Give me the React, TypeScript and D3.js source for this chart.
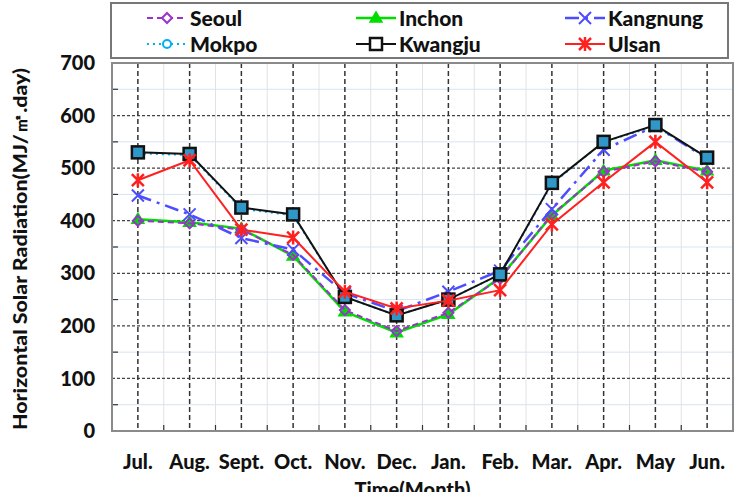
import React, { useRef, useEffect } from 'react';
import * as d3 from 'd3';

const months = ['Jul.', 'Aug.', 'Sept.', 'Oct.', 'Nov.', 'Dec.', 'Jan.', 'Feb.', 'Mar.', 'Apr.', 'May', 'Jun.'];

const seoul = [400, 395, 383, 335, 230, 190, 225, 290, 412, 493, 513, 493];
const inchon = [403, 397, 385, 333, 227, 187, 222, 292, 410, 495, 515, 495];
const kangnung = [448, 412, 367, 345, 262, 228, 265, 305, 422, 535, 580, 518];
const mokpo = [528, 525, 423, 410, 255, 220, 250, 298, 470, 550, 580, 520];
const kwangju = [530, 527, 425, 412, 255, 220, 250, 298, 472, 550, 582, 520];
const ulsan = [477, 515, 383, 368, 265, 233, 248, 268, 393, 473, 550, 473];

const yTicks = [0, 100, 200, 300, 400, 500, 600, 700];

type Marker = 'diamond' | 'triangle' | 'x' | 'circle' | 'square' | 'star';

interface Series {
    name: string;
    values: number[];
    color: string;
    dash: string;
    marker: Marker;
    fill: string;
    width: number;
}

const series: Series[] = [
    { name: 'Seoul', values: seoul, color: '#9933cc', dash: '6,4', marker: 'diamond', fill: 'none', width: 2 },
    { name: 'Inchon', values: inchon, color: '#00dd00', dash: '', marker: 'triangle', fill: '#00dd00', width: 2.5 },
    { name: 'Kangnung', values: kangnung, color: '#4d4dff', dash: '14,6,3,6', marker: 'x', fill: 'none', width: 2.5 },
    { name: 'Mokpo', values: mokpo, color: '#00b0f0', dash: '2,4', marker: 'circle', fill: 'none', width: 2 },
    { name: 'Kwangju', values: kwangju, color: '#111111', dash: '', marker: 'square', fill: '#2f98c8', width: 2 },
    { name: 'Ulsan', values: ulsan, color: '#ff2020', dash: '', marker: 'star', fill: 'none', width: 2 },
];

const W = 739;
const H = 492;
const font = 'Lato, "Open Sans", sans-serif';

function drawMarker(g: any, s: Series, x: number, y: number, legend = false) {
    const fill = legend && s.marker === 'square' ? 'white' : s.fill;
    const sw = 2;
    switch (s.marker) {
        case 'diamond':
            g.append('path').attr('d', `M${x},${y - 5}L${x + 5},${y}L${x},${y + 5}L${x - 5},${y}Z`)
                .attr('fill', legend ? 'white' : 'none').attr('stroke', s.color).attr('stroke-width', sw);
            break;
        case 'triangle':
            g.append('path').attr('d', `M${x},${y - 6}L${x + 6},${y + 4}L${x - 6},${y + 4}Z`)
                .attr('fill', s.fill).attr('stroke', s.color).attr('stroke-width', 1.5);
            break;
        case 'x':
            g.append('path').attr('d', `M${x - 6},${y - 6}L${x + 6},${y + 6}M${x - 6},${y + 6}L${x + 6},${y - 6}`)
                .attr('stroke', s.color).attr('stroke-width', sw);
            break;
        case 'circle':
            g.append('circle').attr('cx', x).attr('cy', y).attr('r', 4)
                .attr('fill', legend ? 'white' : 'none').attr('stroke', s.color).attr('stroke-width', sw);
            break;
        case 'square':
            g.append('rect').attr('x', x - 6).attr('y', y - 6).attr('width', 12).attr('height', 12)
                .attr('fill', fill).attr('stroke', s.color).attr('stroke-width', 2.5);
            break;
        case 'star':
            g.append('path').attr('d', `M${x - 6},${y - 6}L${x + 6},${y + 6}M${x - 6},${y + 6}L${x + 6},${y - 6}M${x},${y - 7}L${x},${y + 7}`)
                .attr('stroke', s.color).attr('stroke-width', 2.5);
            break;
    }
}

const App: React.FC = () => {
    const svgRef = useRef<SVGSVGElement | null>(null);

    useEffect(() => {
        if (!svgRef.current) return;
        const svg = d3.select(svgRef.current);
        svg.selectAll('*').remove();

        const left = 112, right = 733, top = 63, bottom = 431;

        const x = d3.scaleBand<string>().domain(months).range([left, right]);
        const y = d3.scaleLinear().domain([0, 700]).range([bottom, top]);
        const cx = (m: string) => (x(m) ?? 0) + x.bandwidth() / 2;

        svg.append('rect').attr('width', W).attr('height', H).attr('fill', 'white');

        const grid = svg.append('g');
        // light lines at the half hundreds
        d3.range(50, 700, 100).forEach((v) => {
            grid.append('line').attr('x1', left).attr('x2', right).attr('y1', y(v)).attr('y2', y(v))
                .attr('stroke', '#d6e4f2').attr('stroke-width', 1);
        });
        months.slice(1).forEach((m) => {
            const xv = x(m) ?? 0;
            grid.append('line').attr('x1', xv).attr('x2', xv).attr('y1', top).attr('y2', bottom)
                .attr('stroke', '#e2e2e2').attr('stroke-width', 1);
        });
        yTicks.slice(1, -1).forEach((v) => {
            grid.append('line').attr('x1', left).attr('x2', right).attr('y1', y(v)).attr('y2', y(v))
                .attr('stroke', '#444').attr('stroke-width', 1.2).attr('stroke-dasharray', '3,2');
        });
        months.forEach((m) => {
            grid.append('line').attr('x1', cx(m)).attr('x2', cx(m)).attr('y1', top).attr('y2', bottom)
                .attr('stroke', '#333').attr('stroke-width', 1.5).attr('stroke-dasharray', '5,3');
        });
        // minor ticks
        d3.range(50, 700, 100).forEach((v) => {
            grid.append('line').attr('x1', left).attr('x2', left + 6).attr('y1', y(v)).attr('y2', y(v))
                .attr('stroke', '#333').attr('stroke-width', 1.2);
        });
        months.slice(1).forEach((m) => {
            const xv = x(m) ?? 0;
            grid.append('line').attr('x1', xv).attr('x2', xv).attr('y1', bottom).attr('y2', bottom - 6)
                .attr('stroke', '#333').attr('stroke-width', 1.2);
        });

        svg.append('rect').attr('x', left).attr('y', top).attr('width', right - left).attr('height', bottom - top)
            .attr('fill', 'none').attr('stroke', '#8a8a8a').attr('stroke-width', 2);

        const line = d3.line<number>().x((_, i) => cx(months[i])).y((d) => y(d));
        const order = [1, 0, 3, 2, 4, 5];
        order.forEach((idx) => {
            const s = series[idx];
            const g = svg.append('g');
            g.append('path').attr('d', line(s.values) ?? '').attr('fill', 'none')
                .attr('stroke', s.color).attr('stroke-width', s.width)
                .attr('stroke-dasharray', s.dash || null);
            s.values.forEach((v, i) => drawMarker(g, s, cx(months[i]), y(v)));
        });

        svg.append('g').selectAll('text').data(yTicks).enter().append('text')
            .attr('x', 95).attr('y', (d) => y(d)).attr('dy', '0.36em').attr('text-anchor', 'end')
            .attr('font-family', font).attr('font-weight', 900).attr('font-size', 20).attr('fill', '#111')
            .text((d) => d);

        svg.append('g').selectAll('text').data(months).enter().append('text')
            .attr('x', (d) => cx(d)).attr('y', 469).attr('text-anchor', 'middle')
            .attr('font-family', font).attr('font-weight', 900).attr('font-size', 20).attr('fill', '#111')
            .text((d) => d);

        svg.append('text').attr('transform', `translate(27,${(top + bottom) / 2 + 2}) rotate(-90)`)
            .attr('text-anchor', 'middle').attr('font-family', font).attr('font-weight', 900)
            .attr('font-size', 18).attr('fill', '#111')
            .attr('textLength', 362).attr('lengthAdjust', 'spacingAndGlyphs')
            .text('Horizontal Solar Radiation(MJ/㎡.day)');
        svg.append('text').attr('x', (left + right) / 2 - 10).attr('y', 497).attr('text-anchor', 'middle')
            .attr('font-family', font).attr('font-weight', 900).attr('font-size', 20).attr('fill', '#111')
            .text('Time(Month)');

        const lg = svg.append('g');
        lg.append('rect').attr('x', 111).attr('y', 3).attr('width', 617).attr('height', 55)
            .attr('fill', 'white').attr('stroke', '#777').attr('stroke-width', 2);
        const colX = [147, 356, 565];
        const rowY = [18, 44];
        series.forEach((s, i) => {
            const lx = colX[i % 3];
            const ly = rowY[Math.floor(i / 3)];
            const g = lg.append('g');
            g.append('line').attr('x1', lx).attr('x2', lx + 40).attr('y1', ly).attr('y2', ly)
                .attr('stroke', s.color).attr('stroke-width', s.width).attr('stroke-dasharray', s.dash || null);
            drawMarker(g, s, lx + 20, ly, true);
            g.append('text').attr('x', lx + 43).attr('y', ly).attr('dy', '0.36em')
                .attr('font-family', font).attr('font-weight', 900).attr('font-size', 21).attr('fill', '#111')
                .text(s.name);
        });
    }, []);

    return (
        <svg
            ref={svgRef}
            width={W}
            height={H}
            style={{ position: 'absolute', left: 0, top: 0, display: 'block' }}
            viewBox={`0 0 ${W} ${H}`}
        ></svg>
    );
};

export default App;
